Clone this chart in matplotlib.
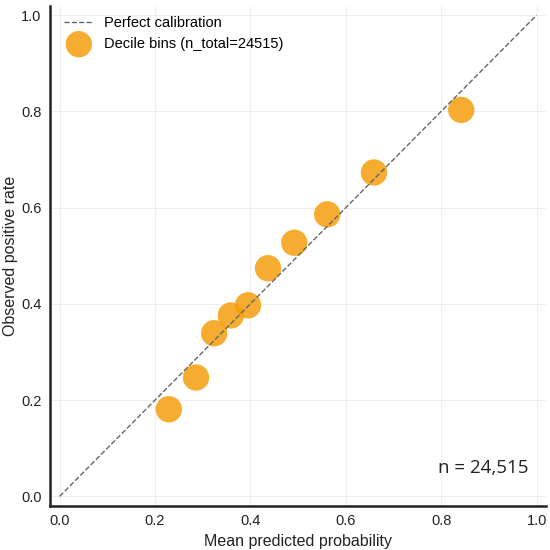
import matplotlib
matplotlib.use("Agg")
import matplotlib.pyplot as plt

mean_pred = [0.229, 0.286, 0.324, 0.359, 0.395, 0.437, 0.492, 0.561, 0.659, 0.842]
obs_rate = [0.181, 0.247, 0.339, 0.376, 0.397, 0.474, 0.527, 0.586, 0.673, 0.803]
ticks = [0.0, 0.2, 0.4, 0.6, 0.8, 1.0]
n_total = 24515

plt.rcParams['font.family'] = ['Liberation Sans', 'DejaVu Sans']

fig = plt.figure(figsize=(5.5, 5.5), dpi=100)
ax = fig.add_axes([0.091, 0.08, 0.902, 0.91])

ax.plot([0, 1], [0, 1], linestyle='--', color='#666666', linewidth=1.0,
        label='Perfect calibration', zorder=3)
ax.scatter(mean_pred, obs_rate, s=360, color='#F59E0B', alpha=0.85,
           edgecolors='none', label=f'Decile bins (n_total={n_total})', zorder=2)

ax.set_xlim(-0.02, 1.02)
ax.set_ylim(-0.02, 1.02)
ax.set_xticks(ticks)
ax.set_yticks(ticks)
ax.set_xticklabels([f'{t:.1f}' for t in ticks])
ax.set_yticklabels([f'{t:.1f}' for t in ticks])
ax.tick_params(length=0, labelsize=10.5, colors='#222222', pad=6)
ax.grid(True, color='#eeeeee', linewidth=0.8)
ax.set_axisbelow(True)

for s in ['top', 'right']:
    ax.spines[s].set_visible(False)
for s in ['left', 'bottom']:
    ax.spines[s].set_linewidth(1.8)
    ax.spines[s].set_color('#222222')

ax.set_xlabel('Mean predicted probability', fontsize=11.5, color='#222222')
ax.set_ylabel('Observed positive rate', fontsize=11.5, color='#222222', labelpad=2)

ax.text(0.965, 0.075, f'n = {n_total:,}', transform=ax.transAxes, ha='right', va='center',
        fontsize=13.5, family=['Open Sans', 'DejaVu Sans'], color='#222222')

ax.legend(loc='upper left', bbox_to_anchor=(0.008, 1.0), frameon=False, fontsize=10.5,
          markerscale=1.0, handlelength=2.0, handletextpad=0.7, borderaxespad=0.3)

fig.savefig('out.png', dpi=100)
